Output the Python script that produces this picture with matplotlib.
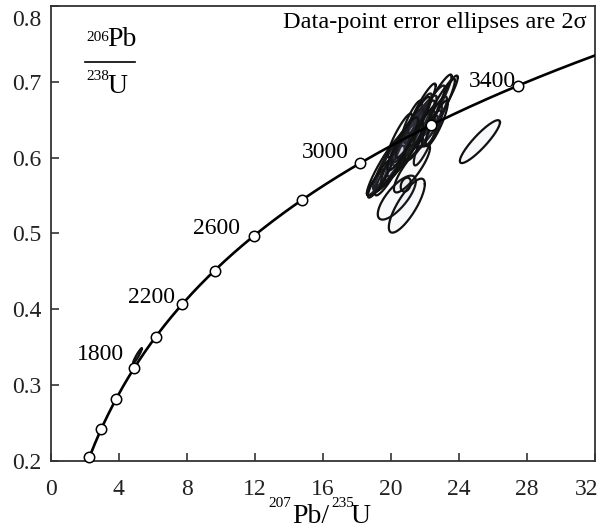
import numpy as np
import matplotlib
matplotlib.use("Agg")
import matplotlib.pyplot as plt
import matplotlib.transforms as mtransforms

plt.rcParams['font.family'] = ['Liberation Serif', 'DejaVu Serif']
plt.rcParams['mathtext.fontset'] = 'custom'
plt.rcParams['mathtext.rm'] = 'Liberation Serif'
plt.rcParams['mathtext.it'] = 'Liberation Serif:italic'
plt.rcParams['mathtext.bf'] = 'Liberation Serif:bold'

# Decay constants (per year)
L238 = 1.55125e-10
L235 = 9.8485e-10

# Concordia age markers (Ma) and labelled ages
marker_ages = [1200, 1400, 1600, 1800, 2000, 2200, 2400, 2600, 2800, 3000, 3200, 3400]
label_ages = [1800, 2200, 2600, 3000, 3400]

# Data-point ellipses: 207Pb/235U, 206Pb/238U, 2-sigma errors, correlation
ell_x   = [21.41, 22.00, 22.29, 22.88, 21.12, 20.53, 20.24, 21.71, 21.59, 22.18, 20.82, 19.65,
           22.59, 21.24, 22.06, 20.53, 23.18, 19.94, 20.35, 20.94, 19.71, 21.24, 20.88, 25.24, 5.09,
           21.59, 21.00, 22.41, 20.24, 21.82, 19.35, 21.30, 22.70, 20.70]
ell_y   = [0.6357, 0.6489, 0.6594, 0.6686, 0.6225, 0.6094, 0.6028, 0.6291, 0.6383, 0.6423, 0.6120, 0.5896,
           0.6515, 0.6489, 0.6225, 0.6291, 0.6752, 0.5830, 0.5472, 0.5366, 0.5764, 0.5856, 0.5643, 0.6210, 0.3386,
           0.6515, 0.6291, 0.6383, 0.5959, 0.6646, 0.5722, 0.6400, 0.6450, 0.6180]
ell_sx  = [1.29, 1.18, 1.29, 1.06, 1.47, 1.47, 1.29, 0.88, 0.71, 0.82, 1.06, 1.06,
           0.71, 0.59, 0.71, 0.71, 0.59, 0.88, 1.12, 1.06, 1.12, 1.06, 0.30, 1.18, 0.26,
           0.82, 0.94, 0.59, 0.82, 0.82, 0.70, 1.00, 0.65, 0.90]
ell_sy  = [0.0461, 0.0461, 0.0501, 0.0395, 0.0527, 0.0527, 0.0461, 0.0329, 0.0237, 0.0290, 0.0369, 0.0395,
           0.0290, 0.0264, 0.0329, 0.0290, 0.0290, 0.0329, 0.0290, 0.0356, 0.0264, 0.0316, 0.0092, 0.0283, 0.0099,
           0.0330, 0.0356, 0.0237, 0.0316, 0.0330, 0.0250, 0.0400, 0.0300, 0.0350]
ell_rho = [0.93, 0.93, 0.95, 0.94, 0.94, 0.93, 0.92, 0.86, 0.75, 0.80, 0.86, 0.93,
           0.88, 0.86, 0.88, 0.90, 0.92, 0.90, 0.75, 0.80, 0.90, 0.85, 0.30, 0.90, 0.95,
           0.90, 0.90, 0.80, 0.90, 0.92, 0.90, 0.93, 0.88, 0.90]

xticks = [0, 4, 8, 12, 16, 20, 24, 28, 32]
yticks = [0.2, 0.3, 0.4, 0.5, 0.6, 0.7, 0.8]

def conc(t_ma):
    t = np.asarray(t_ma, dtype=float) * 1e6
    return np.exp(L235 * t) - 1, np.exp(L238 * t) - 1

W, H = 599, 532
fig = plt.figure(figsize=(W / 100, H / 100), dpi=100)
ax = fig.add_axes([0.085, 0.1335, 0.908, 0.8555])

# concordia curve
tt = np.linspace(1000, 3700, 600)
cx, cy = conc(tt)
ax.plot(cx, cy, color='black', lw=1.9, zorder=3)

# ellipses
th = np.linspace(0, 2 * np.pi, 240)
for x0, y0, sx, sy, r in zip(ell_x, ell_y, ell_sx, ell_sy, ell_rho):
    cov = np.array([[sx * sx, r * sx * sy], [r * sx * sy, sy * sy]])
    L = np.linalg.cholesky(cov)
    pts = L @ np.vstack([np.cos(th), np.sin(th)])
    ax.fill(x0 + pts[0], y0 + pts[1], facecolor='#8890c0', alpha=0.05, zorder=2, lw=0)
    ax.plot(x0 + pts[0], y0 + pts[1], color='#111111', lw=1.6, zorder=2)

# markers
mx, my = conc(marker_ages)
ax.plot(mx, my, 'o', ms=7.5, mfc='white', mec='black', mew=1.1, zorder=4, clip_on=False)

# age labels
offsets = {1800: (-7, 10), 2200: (-5, 5), 2600: (-10, 5), 3000: (-8, 8), 3400: (-1, 3)}
for a in label_ages:
    lx, ly = conc(a)
    dx, dy = offsets[a]
    ax.annotate(str(a), (lx, ly), xytext=(dx, dy), textcoords='offset points',
                ha='right', va='center', fontsize=17, zorder=5)

ax.set_xlim(0, 32)
ax.set_ylim(0.2, 0.8)
ax.set_xticks(xticks)
ax.set_yticks(yticks)
ax.set_xticklabels([str(v) for v in xticks])
ax.set_yticklabels([f"{v:.1f}" for v in yticks])
ax.tick_params(direction='in', length=6, width=1.1, labelsize=17, colors='#222222')
ax.tick_params(axis='y', pad=7)
ax.tick_params(axis='x', pad=13)
lastx = ax.get_xticklabels()[-1]
lastx.set_transform(lastx.get_transform() + mtransforms.ScaledTranslation(-8 / 100, 0, fig.dpi_scale_trans))
lasty = ax.get_yticklabels()[-1]
lasty.set_transform(lasty.get_transform() + mtransforms.ScaledTranslation(0, -12 / 100, fig.dpi_scale_trans))
for s in ax.spines.values():
    s.set_linewidth(1.3)
    s.set_color('#333333')

ax.text(0.985, 0.963, 'Data-point error ellipses are 2σ', transform=ax.transAxes,
        ha='right', va='center', fontsize=17.5)

# y label as a fraction (pixel positions converted to figure fraction)
def fx(px):
    return px / W
def fy(py):
    return 1 - py / H

fig.text(fx(86), fy(31), '206', ha='left', va='top', fontsize=11)
fig.text(fx(107), fy(46), 'Pb', ha='left', va='baseline', fontsize=20)
fig.add_artist(plt.Line2D([fx(85), fx(135)], [fy(62), fy(62)], color='black', lw=1.2))
fig.text(fx(86), fy(70), '238', ha='left', va='top', fontsize=11)
fig.text(fx(107), fy(93), 'U', ha='left', va='baseline', fontsize=20)

# x label
fig.text(fx(292), fy(523), 'Pb/', ha='left', va='baseline', fontsize=20)
fig.text(fx(291), fy(497), '207', ha='right', va='top', fontsize=11)
fig.text(fx(331), fy(497), '235', ha='left', va='top', fontsize=11)
fig.text(fx(350), fy(523), 'U', ha='left', va='baseline', fontsize=20)

fig.savefig('out.png', dpi=100)
